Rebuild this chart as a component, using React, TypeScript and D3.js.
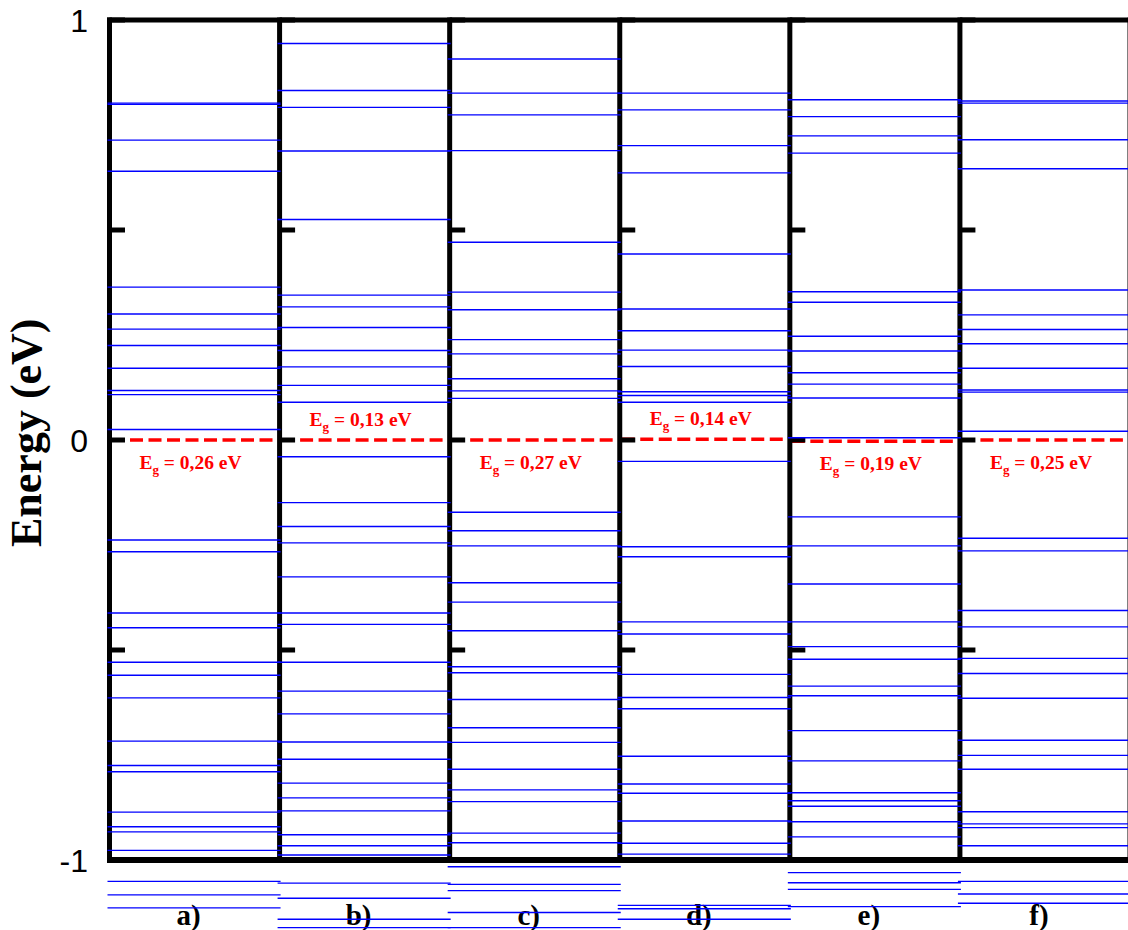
import React from 'react';
import * as d3 from 'd3';

// Six structures, each with its own ladder of energy levels (eV)
const panels = ['a)', 'b)', 'c)', 'd)', 'e)', 'f)'];
const gapValues = ['0,26', '0,13', '0,27', '0,14', '0,19', '0,25'];
const gapPlacement = ['below', 'above', 'below', 'above', 'below', 'below'];
const fermiLevels = [0, 0, 0, 0.0016, -0.003, 0];

const levelsA = [
  0.802, 0.799, 0.714, 0.640, 0.364, 0.300, 0.264, 0.225, 0.171, 0.118, 0.108, 0.025,
  -0.238, -0.266, -0.412, -0.447, -0.529, -0.560, -0.614, -0.717, -0.775, -0.790,
  -0.886, -0.921, -0.933, -0.977, -1.051, -1.083, -1.114,
];
const levelsB = [
  0.944, 0.832, 0.792, 0.688, 0.525, 0.345, 0.317, 0.268, 0.213, 0.174, 0.130, 0.090,
  -0.040, -0.149, -0.206, -0.245, -0.326, -0.412, -0.439, -0.529, -0.598, -0.652,
  -0.719, -0.760, -0.817, -0.852, -0.883, -0.940, -0.966, -0.988, -1.055, -1.091,
  -1.141, -1.161,
];
const levelsC = [
  0.907, 0.826, 0.774, 0.689, 0.471, 0.352, 0.310, 0.239, 0.205, 0.146, 0.117, 0.099,
  -0.172, -0.216, -0.252, -0.340, -0.386, -0.454, -0.540, -0.554, -0.618, -0.685,
  -0.720, -0.784, -0.833, -0.861, -0.936, -0.959, -1.016, -1.058, -1.073, -1.125, -1.161,
];
const levelsD = [
  0.826, 0.786, 0.701, 0.636, 0.443, 0.312, 0.260, 0.214, 0.175, 0.115, 0.106, 0.090,
  -0.051, -0.254, -0.278, -0.433, -0.462, -0.558, -0.613, -0.640, -0.753, -0.819,
  -0.841, -0.907, -0.960, -0.986, -1.108, -1.116, -1.141,
];
const levelsE = [
  0.810, 0.770, 0.724, 0.683, 0.353, 0.328, 0.247, 0.212, 0.160, 0.133, 0.100, 0.0055,
  -0.183, -0.252, -0.343, -0.433, -0.492, -0.522, -0.586, -0.609, -0.692, -0.764,
  -0.840, -0.859, -0.872, -0.909, -0.945, -1.030, -1.054, -1.070, -1.111,
];
const levelsF = [
  0.807, 0.802, 0.715, 0.646, 0.357, 0.298, 0.263, 0.229, 0.171, 0.119, 0.114, 0.021,
  -0.234, -0.264, -0.406, -0.445, -0.520, -0.556, -0.615, -0.715, -0.751, -0.784,
  -0.885, -0.914, -0.923, -0.966, -1.051, -1.081, -1.103,
];
const panelLevels = [levelsA, levelsB, levelsC, levelsD, levelsE, levelsF];

const yTicks = [-1, -0.5, 0, 0.5, 1];
const yTickLabels = ['-1', '', '0', '', '1'];

const W = 1128;
const H = 930;
const serif = '"Liberation Serif", "Times New Roman", Times, serif';
const sans = '"Liberation Sans", Arial, Helvetica, sans-serif';

export default function App() {
  const y = d3.scaleLinear().domain([-1, 1]).range([860, 20]);
  const x = d3.scaleBand<string>().domain(panels).range([109.5, 1130]).padding(0);
  const bw = x.bandwidth();
  const dividers = [...panels.map((p) => x(p) as number), 1130];

  return (
    <svg
      width={W}
      height={H}
      viewBox={`0 0 ${W} ${H}`}
      style={{ position: 'absolute', left: 0, top: 0, background: '#fff' }}
    >
      <rect x={0} y={0} width={W} height={H} fill="#fff" />

      {/* y-axis title */}
      <text
        transform="translate(41,547) rotate(-90)"
        fontFamily={serif}
        fontWeight="bold"
        fontSize={44}
        fill="#000"
      >
        Energy (eV)
      </text>

      {/* tick labels */}
      {yTicks.map((t, i) =>
        yTickLabels[i] ? (
          <text
            key={'tl' + i}
            x={88}
            y={y(t) + 11.5}
            textAnchor="end"
            fontFamily={sans}
            fontSize={32}
            fill="#000"
          >
            {yTickLabels[i]}
          </text>
        ) : null
      )}

      {/* panel captions */}
      {panels.map((p) => (
        <text
          key={'cap' + p}
          x={(x(p) as number) + bw / 2 - 6}
          y={925}
          textAnchor="middle"
          fontFamily={serif}
          fontWeight="bold"
          fontSize={29}
          fill="#000"
        >
          {p}
        </text>
      ))}

      {/* Fermi level (dashed) */}
      {panels.map((p, i) => (
        <line
          key={'ef' + p}
          x1={(x(p) as number) + 2}
          x2={(x(p) as number) + bw - 2}
          y1={y(fermiLevels[i])}
          y2={y(fermiLevels[i])}
          stroke="#ff0000"
          strokeWidth={3.5}
          strokeDasharray="13 5.5"
        />
      ))}

      {/* frame */}
      <line x1={107} x2={1132} y1={y(1)} y2={y(1)} stroke="#000" strokeWidth={5} />
      <line x1={107} x2={1132} y1={y(-1)} y2={y(-1)} stroke="#000" strokeWidth={6} />
      {dividers.map((d, i) => (
        <line key={'div' + i} x1={d} x2={d} y1={y(1) - 2.5} y2={y(-1) + 3} stroke="#000" strokeWidth={5} />
      ))}

      {/* inward ticks on each panel's left edge */}
      {panels.map((p) =>
        yTicks.map((t) => (
          <line
            key={'tk' + p + t}
            x1={x(p) as number}
            x2={(x(p) as number) + 15.5}
            y1={y(t)}
            y2={y(t)}
            stroke="#000"
            strokeWidth={5}
          />
        ))
      )}

      {/* energy levels */}
      {panels.map((p, i) =>
        panelLevels[i].map((e, j) => (
          <line
            key={'lv' + p + j}
            x1={(x(p) as number) - 2}
            x2={(x(p) as number) + bw + 1}
            y1={y(e)}
            y2={y(e)}
            stroke="#0000ff"
            strokeWidth={1.4}
          />
        ))
      )}

      {/* band gap labels */}
      {panels.map((p, i) => {
        const yl = y(fermiLevels[i]) + (gapPlacement[i] === 'below' ? 29 : -14);
        return (
          <text
            key={'eg' + p}
            x={(x(p) as number) + bw / 2 - 4}
            y={yl}
            textAnchor="middle"
            fontFamily={serif}
            fontWeight="bold"
            fontSize={19.5}
            fill="#ff0000"
          >
            E
            <tspan fontSize={13} dy={5}>
              g
            </tspan>
            <tspan dy={-5}>{` = ${gapValues[i]} eV`}</tspan>
          </text>
        );
      })}
    </svg>
  );
}
